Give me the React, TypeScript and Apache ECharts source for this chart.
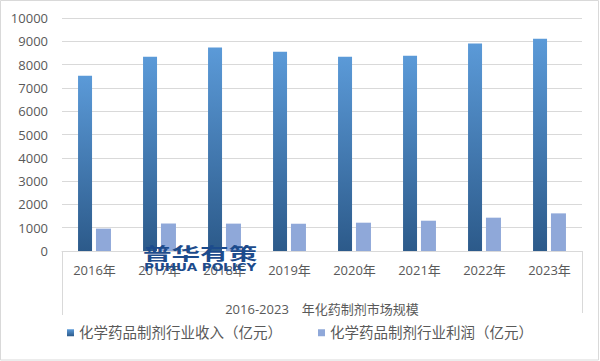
import React, { useEffect, useRef } from "react";
import * as echarts from "echarts";

const categories = ["2016年", "2017年", "2018年", "2019年", "2020年", "2021年", "2022年", "2023年"];
const revenue = [7520, 8340, 8730, 8555, 8340, 8385, 8910, 9110];
const profit = [960, 1180, 1175, 1170, 1215, 1300, 1430, 1615];
const seriesNames = ["化学药品制剂行业收入（亿元）", "化学药品制剂行业利润（亿元）"];
const axisTitle = "2016-2023\u3000年化药制剂市场规模";

const FONT = "'Open Sans', 'Noto Sans CJK SC', sans-serif";

export default function App() {
  const ref = useRef<HTMLDivElement>(null);
  useEffect(() => {
    if (!ref.current) return;
    const chart = echarts.init(ref.current, null, { renderer: "svg" });
    const blueGrad = new echarts.graphic.LinearGradient(0, 0, 0, 1, [
      { offset: 0, color: "#5b9ad8" },
      { offset: 1, color: "#2c5a8a" },
    ]);
    chart.setOption({
      animation: false,
      textStyle: { fontFamily: FONT },
      grid: { left: 62, right: 18, top: 18, bottom: 110, containLabel: false },
      xAxis: {
        type: "category",
        data: categories,
        axisLine: { show: true, lineStyle: { color: "#d9d9d9", width: 1 } },
        axisTick: { show: false },
        axisLabel: { color: "#595959", fontSize: 13, margin: 12, fontFamily: FONT },
        name: axisTitle,
        nameLocation: "middle",
        nameGap: 51,
        nameTextStyle: { color: "#595959", fontSize: 13, fontFamily: FONT },
      },
      yAxis: {
        type: "value",
        min: 0,
        max: 10000,
        interval: 1000,
        axisLine: { show: false },
        axisTick: { show: false },
        splitLine: { lineStyle: { color: "#d9d9d9", width: 1 } },
        axisLabel: {
          color: "#595959",
          fontSize: 13,
          margin: 14,
          fontFamily: FONT,
          formatter: (v: number) => String(v),
        },
      },
      legend: {
        bottom: 16,
        left: 62,
        itemWidth: 7,
        itemHeight: 7,
        itemGap: 36,
        icon: "rect",
        textStyle: { color: "#595959", fontSize: 14.5, fontFamily: FONT },
        data: seriesNames,
      },
      series: [
        {
          name: seriesNames[0],
          type: "bar",
          data: revenue,
          barWidth: 14,
          barGap: "28%",
          itemStyle: { color: blueGrad },
        },
        {
          name: seriesNames[1],
          type: "bar",
          data: profit,
          barWidth: 15,
          itemStyle: { color: "#8fa8d9" },
        },
      ],
      graphic: [
        {
          type: "rect",
          shape: { x: 0.5, y: 0.5, width: 598, height: 359.5 },
          style: { fill: "none", stroke: "#d9d9d9", lineWidth: 1 },
          silent: true,
        },
        {
          type: "line",
          shape: { x1: 62.5, y1: 251, x2: 62.5, y2: 315 },
          style: { stroke: "#d9d9d9", lineWidth: 1 },
          silent: true,
        },
        {
          type: "line",
          shape: { x1: 582.5, y1: 251, x2: 582.5, y2: 313 },
          style: { stroke: "#d9d9d9", lineWidth: 1 },
          silent: true,
        },
        {
          type: "text",
          x: 143,
          y: 244,
          scaleX: 1.68,
          z: 100,
          style: {
            text: "普华有策",
            font: "bold 17px 'Noto Sans CJK SC'",
            fill: "#1c4b8c",
          },
        },
        {
          type: "text",
          x: 144,
          y: 263,
          scaleX: 1.35,
          z: 100,
          style: {
            text: "PUHUA POLICY",
            font: "bold 10px 'DejaVu Sans'",
            fill: "#1c4b8c",
          },
        },
      ],
    });
    return () => chart.dispose();
  }, []);
  return (
    <div
      ref={ref}
      style={{ position: "absolute", left: 0, top: 0, width: 600, height: 361, background: "#fff" }}
    />
  );
}
